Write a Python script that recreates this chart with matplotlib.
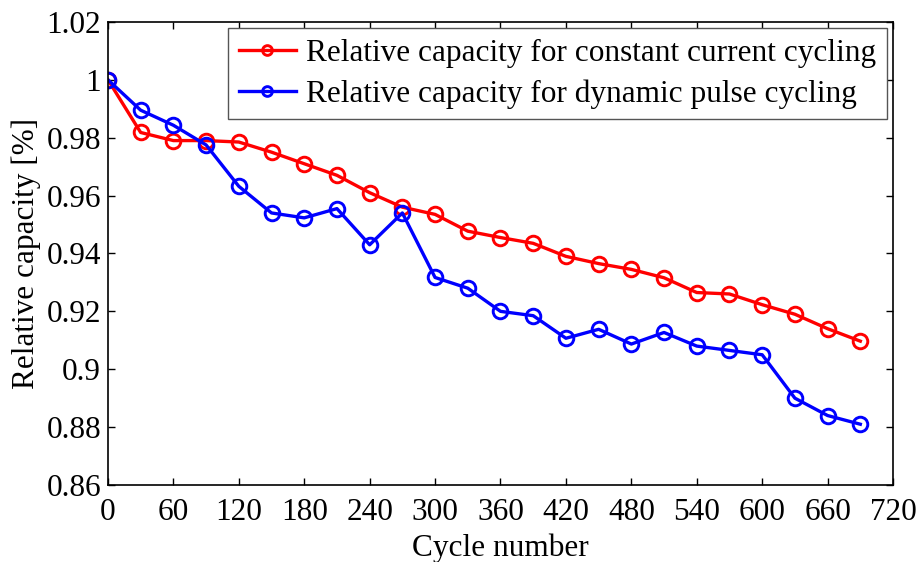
import numpy as np
import matplotlib
matplotlib.use("Agg")
import matplotlib.pyplot as plt
from matplotlib.ticker import FuncFormatter

# ======= Data =======
cycles = [0, 30, 60, 90, 120, 150, 180, 210, 240, 270, 300, 330,
          360, 390, 420, 450, 480, 510, 540, 570, 600, 630, 660, 690]
cc_capacity = [1.0, 0.9818, 0.979, 0.979, 0.9785, 0.975, 0.971, 0.967,
               0.961, 0.956, 0.9535, 0.9477, 0.9455, 0.9435, 0.939, 0.9365,
               0.9345, 0.9316, 0.9265, 0.926, 0.9223, 0.919, 0.914, 0.9097]
pulse_capacity = [1.0, 0.9895, 0.9843, 0.9775, 0.9632, 0.954, 0.9523, 0.9555,
                  0.943, 0.954, 0.9317, 0.928, 0.920, 0.9185, 0.9107, 0.9138,
                  0.9087, 0.9127, 0.908, 0.9065, 0.905, 0.890, 0.884, 0.881]
x_ticks = list(range(0, 721, 60))
y_ticks = [0.86, 0.88, 0.9, 0.92, 0.94, 0.96, 0.98, 1.0, 1.02]
labels = ["Relative capacity for constant current cycling",
          "Relative capacity for dynamic pulse cycling"]

FS = 22.5
plt.rcParams['font.family'] = ['Liberation Serif', 'DejaVu Serif']

fig = plt.figure(figsize=(9.18, 5.62), dpi=100)
ax = fig.add_axes([0.1176, 0.137, 0.8552, 0.824])

ax.plot(cycles, cc_capacity, '-o', color='#ff0000', lw=2.4, ms=10.5,
        mfc='none', mew=2.1, label=labels[0])
ax.plot(cycles, pulse_capacity, '-o', color='#0000ff', lw=2.4, ms=10.5,
        mfc='none', mew=2.1, label=labels[1])

ax.set_xlim(0, 720)
ax.set_ylim(0.86, 1.02)
ax.set_xticks(x_ticks)
ax.set_yticks(y_ticks)
ax.yaxis.set_major_formatter(FuncFormatter(lambda v, p: f"{v:.2f}".rstrip('0').rstrip('.')))
ax.tick_params(direction='in', top=True, right=True, length=5, width=1,
               labelsize=FS)
ax.tick_params(axis='x', pad=9)
ax.tick_params(axis='y', pad=5)
for s in ax.spines.values():
    s.set_linewidth(1.2)

ax.set_xlabel("Cycle number", fontsize=FS, labelpad=5)
ax.set_ylabel("Relative capacity [%]", fontsize=FS, labelpad=4)

leg = ax.legend(loc='upper right', fontsize=FS, frameon=True, fancybox=False,
                edgecolor='#555555', framealpha=1, borderpad=0.35,
                handlelength=1.85, handletextpad=0.3, labelspacing=0.35,
                borderaxespad=0.2)
leg.get_frame().set_linewidth(1.0)
for h in leg.legend_handles:
    h.set_markersize(7)

fig.savefig("out.png", dpi=100)
